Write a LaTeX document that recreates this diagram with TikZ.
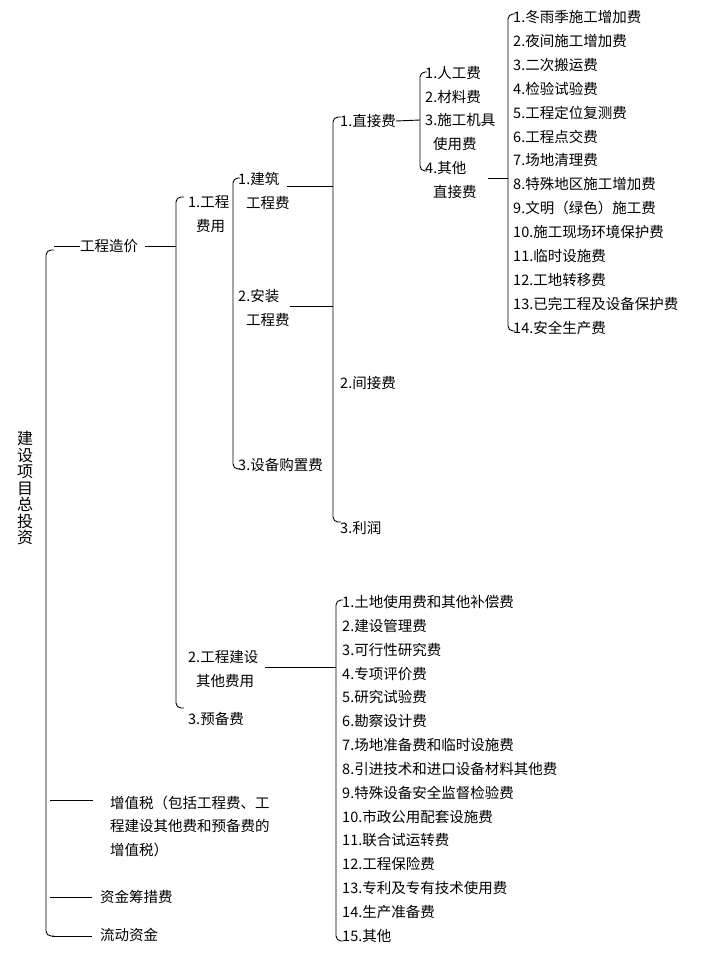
\documentclass[tikz,border=0pt]{standalone}
\usepackage{fontspec}
\newfontfamily\cjk{Noto Sans CJK SC}
\usepackage{tikz}

\tikzset{
  lbl/.style={anchor=west, inner sep=0pt, align=left, font=\cjk\fontsize{14.5}{23.5}\selectfont},
  brk/.style={black, line width=0.9pt, rounded corners=5pt},
  stub/.style={black, line width=0.9pt}
}

\begin{document}
\begin{tikzpicture}[x=1pt, y=-1pt]
\useasboundingbox (0,0) rectangle (709,958);

%% root
\node[inner sep=0pt, align=center, font=\cjk\fontsize{16}{16.5}\selectfont] (root) at (25,488) {建\\设\\项\\目\\总\\投\\资};
\draw[brk] (54,250) -- (46,250) -- (46,936) -- (54,936);

\path
(80,246) node[lbl](gczj) {工程造价}
(110,826) node[lbl](zzs) {增值税（包括工程费、工\\程建设其他费和预备费的\\增值税）}
(100,897) node[lbl](zjcc) {资金筹措费}
(100,935) node[lbl](ldzj) {流动资金};
\draw[stub] (50,800) -- (93,800);
\draw[stub] (50,897) -- (92,897);
\draw[stub] (52,936) -- (92,936);
\draw[stub] (54,246) -- (gczj.west);

%% level 2
\draw[stub] (gczj.east) ++(7,0) -- (176,246);
\draw[brk] (184,197) -- (176,197) -- (176,708) -- (184,708);
\path
(188,214) node[lbl](gcfy) {1.工程\\\hspace{8pt}费用}
(188,669) node[lbl](qtfy) {2.工程建设\\\hspace{8pt}其他费用}
(188,719) node[lbl](ybf) {3.预备费};

%% engineering cost
\draw[brk] (240,178) -- (233,178) -- (233,469) -- (240,469);
\path
(238,191) node[lbl](jzgcf) {1.建筑\\\hspace{8pt}工程费}
(238,308) node[lbl](azgcf) {2.安装\\\hspace{8pt}工程费}
(238,465) node[lbl](sbgz) {3.设备购置费};
\draw[stub] (287,186) -- (333,186);
\draw[stub] (290,306) -- (333,306);

%% building cost
\draw[brk] (341,117) -- (333,117) -- (333,522) -- (341,522);
\path
(340,121) node[lbl](zjf) {1.直接费}
(340,383) node[lbl](jjf) {2.间接费}
(340,528) node[lbl](lr) {3.利润};
\draw[stub] (zjf.east) -- (420,120);

%% direct cost
\draw[brk] (427,72) -- (420,72) -- (420,171) -- (427,171);
\path
(425,73) node[lbl](rgf) {1.人工费}
(425,97) node[lbl](clf) {2.材料费}
(425,132) node[lbl](jjsy) {3.施工机具\\\hspace{8pt}使用费}
(425,180) node[lbl](qtzj) {4.其他\\\hspace{8pt}直接费};
\draw[stub] (488,178) -- (508,178);

%% other direct cost
\draw[brk] (515,14) -- (508,14) -- (508,331) -- (515,331);
\foreach \t [count=\i] in {冬雨季施工增加费, 夜间施工增加费, 二次搬运费, 检验试验费,
  工程定位复测费, 工程点交费, 场地清理费, 特殊地区施工增加费, 文明（绿色）施工费,
  施工现场环境保护费, 临时设施费, 工地转移费, 已完工程及设备保护费, 安全生产费}
  \node[lbl] (zj\i) at (513,{17+23.9*(\i-1)}) {\i.\t};

%% other construction cost
\draw[stub] (265,667) -- (336,667);
\draw[brk] (343,600) -- (336,600) -- (336,941) -- (343,941);
\foreach \t [count=\i] in {土地使用费和其他补偿费, 建设管理费, 可行性研究费, 专项评价费,
  研究试验费, 勘察设计费, 场地准备费和临时设施费, 引进技术和进口设备材料其他费,
  特殊设备安全监督检验费, 市政公用配套设施费, 联合试运转费, 工程保险费,
  专利及专有技术使用费, 生产准备费, 其他}
  \node[lbl] (qt\i) at (342,{602+23.85*(\i-1)}) {\i.\t};

\end{tikzpicture}
\end{document}
